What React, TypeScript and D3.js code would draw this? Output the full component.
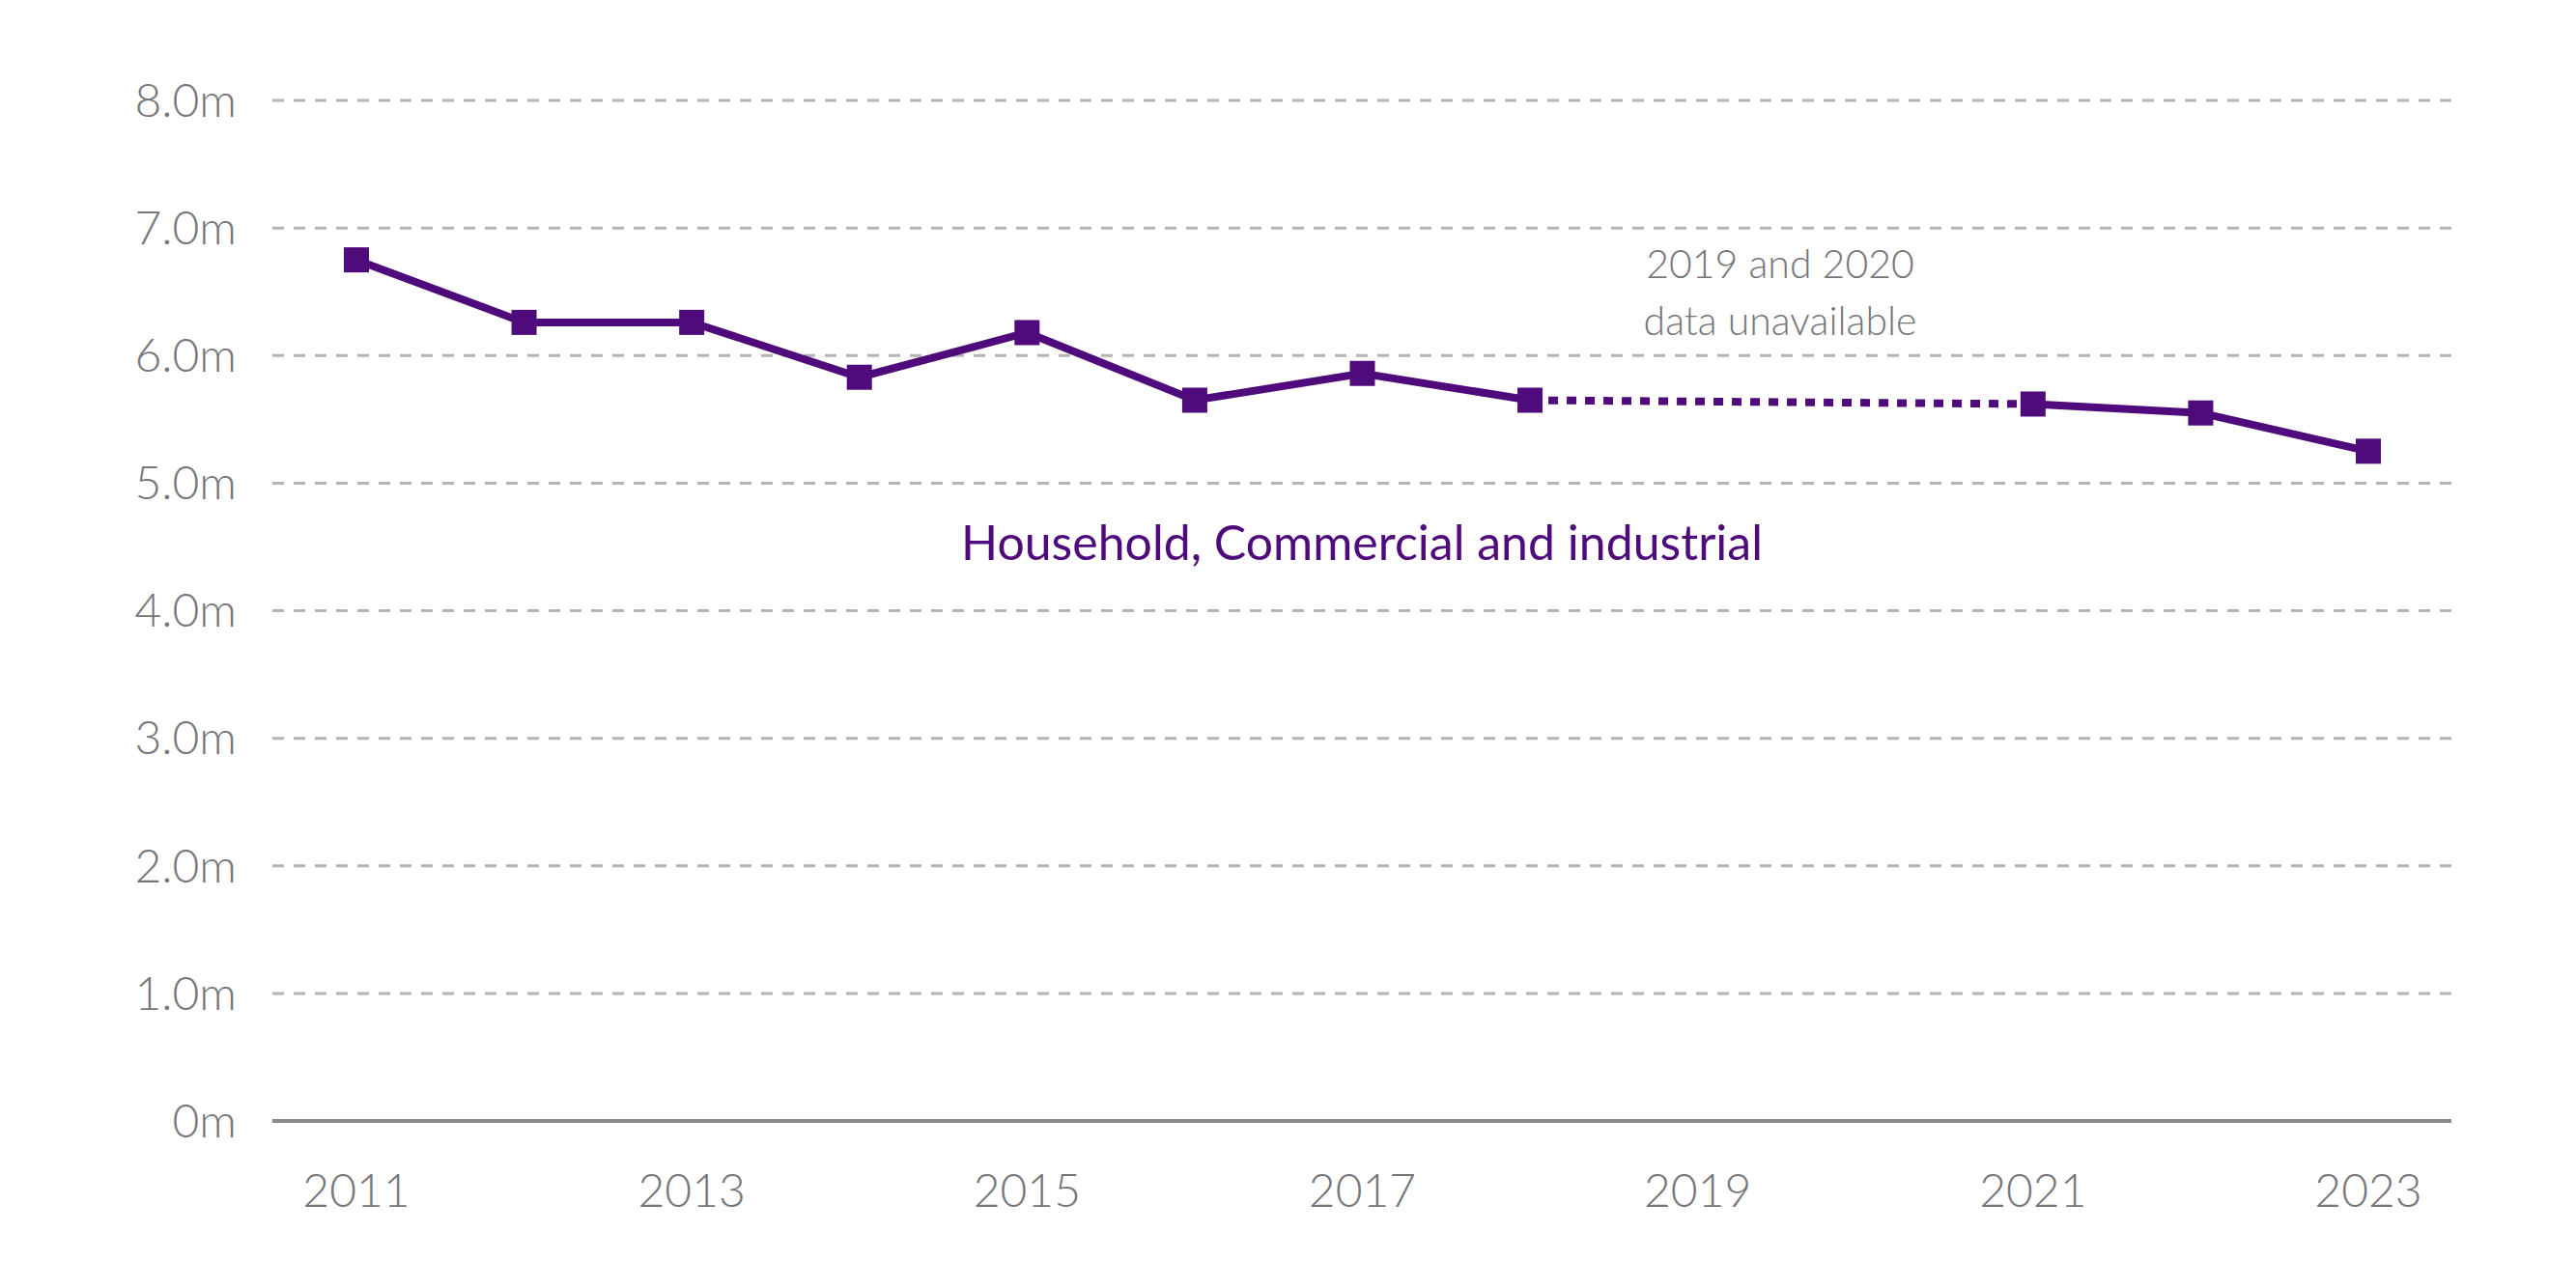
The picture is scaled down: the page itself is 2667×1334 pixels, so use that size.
import * as d3 from 'd3'
import React from 'react'

const years = [2011, 2012, 2013, 2014, 2015, 2016, 2017, 2018, 2021, 2022, 2023]
const values = [6.75, 6.26, 6.26, 5.83, 6.18, 5.65, 5.86, 5.65, 5.62, 5.55, 5.25]
const yTicks = [0, 1, 2, 3, 4, 5, 6, 7, 8]
const xTicks = [2011, 2013, 2015, 2017, 2019, 2021, 2023]

const W = 2667
const H = 1334
const purple = '#4f0b7b'
const grey = '#76767a'
const font = 'Lato, "Open Sans", sans-serif'

const App = () => {
  const x = d3.scaleLinear().domain([2011, 2023]).range([369, 2452])
  const y = d3.scaleLinear().domain([0, 8]).range([1161, 104])

  const pts = years.map((yr, i) => ({ yr, v: values[i] }))
  const line = d3.line<{ yr: number; v: number }>().x(d => x(d.yr)).y(d => y(d.v))
  const before = pts.filter(p => p.yr <= 2018)
  const after = pts.filter(p => p.yr >= 2021)
  const gap = pts.filter(p => p.yr === 2018 || p.yr === 2021)

  return (
    <svg width={W} height={H} style={{ position: 'absolute', left: 0, top: 0, background: '#fff' }}>
      {yTicks.map(t => (
        <g key={t}>
          {t > 0 && (
            <line x1={282} x2={2538} y1={y(t)} y2={y(t)} stroke="#b4b4b4" strokeWidth={3} strokeDasharray="12 10" />
          )}
          <text x={245} y={y(t)} dy="0.35em" textAnchor="end" fontFamily={font} fontWeight={300} fontSize={48} fill={grey}>
            {t === 0 ? '0m' : `${t.toFixed(1)}m`}
          </text>
        </g>
      ))}
      <line x1={282} x2={2538} y1={y(0)} y2={y(0)} stroke="#8a8a8a" strokeWidth={4} />
      {xTicks.map(t => (
        <text key={t} x={x(t)} y={1250} textAnchor="middle" fontFamily={font} fontWeight={300} fontSize={48} fill={grey}>
          {t}
        </text>
      ))}
      <path d={line(before) || ''} fill="none" stroke={purple} strokeWidth={8} />
      <path d={line(after) || ''} fill="none" stroke={purple} strokeWidth={8} />
      <path d={line(gap) || ''} fill="none" stroke={purple} strokeWidth={8} strokeDasharray="10 9" />
      {pts.map(p => (
        <rect key={p.yr} x={x(p.yr) - 13} y={y(p.v) - 13} width={26} height={26} fill={purple} />
      ))}
      <text x={1410} y={580} textAnchor="middle" fontFamily={font} fontSize={50} fill={purple}>
        Household, Commercial and industrial
      </text>
      <text textAnchor="middle" fontFamily={font} fontWeight={300} fontSize={41} fill={grey}>
        <tspan x={1843} y={288}>2019 and 2020</tspan>
        <tspan x={1843} y={347}>data unavailable</tspan>
      </text>
    </svg>
  )
}

export default App
